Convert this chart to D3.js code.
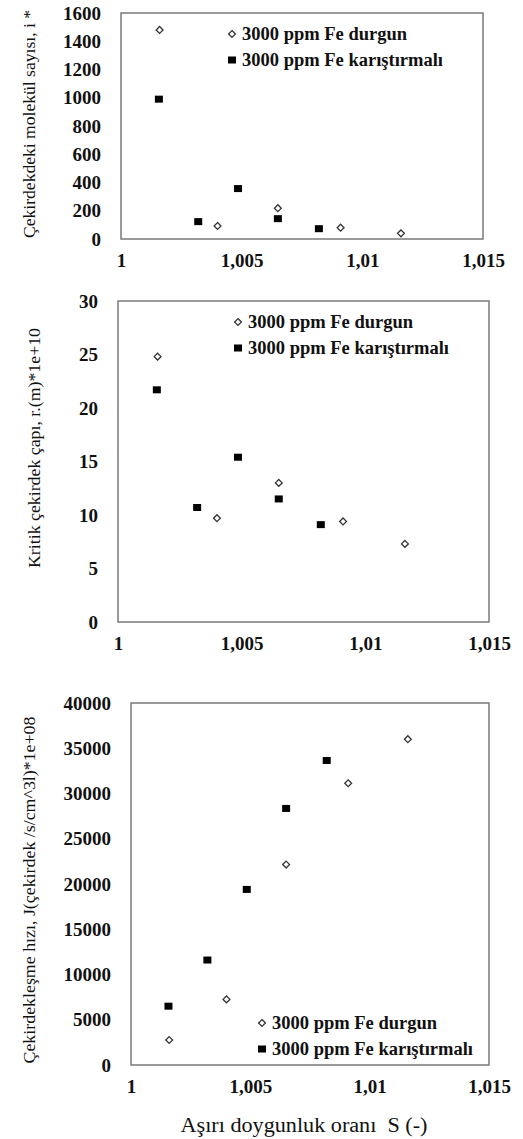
<!DOCTYPE html>
<html>
<head>
<meta charset="utf-8">
<script src="https://cdn.jsdelivr.net/npm/d3@7"></script>
<style>
  html, body { margin: 0; padding: 0; background: #fff; }
  svg { display: block; }
</style>
</head>
<body>
<svg id="chart" width="523" height="1139"></svg>
<script>
// ---------- DATA ----------
const xTickValues = [1, 1.005, 1.01, 1.015];
const xTickLabels = ["1", "1,005", "1,01", "1,015"];

const seriesNames = ["3000 ppm Fe durgun", "3000 ppm Fe karıştırmalı"];

const durgunS = [1.0016, 1.0040, 1.0065, 1.0091, 1.0116];
const karS    = [1.00157, 1.0032, 1.00485, 1.0065, 1.0082];

const durgunI = [1480, 92, 218, 80, 40];
const karI    = [990, 123, 357, 144, 73];

const durgunR = [24.8, 9.7, 13.0, 9.4, 7.3];
const karR    = [21.7, 10.7, 15.4, 11.5, 9.1];

const durgunJ = [2760, 7250, 22150, 31130, 36000];
const karJ    = [6500, 11600, 19400, 28350, 33650];

const yTicks1 = [0, 200, 400, 600, 800, 1000, 1200, 1400, 1600];
const yTicks2 = [0, 5, 10, 15, 20, 25, 30];
const yTicks3 = [0, 5000, 10000, 15000, 20000, 25000, 30000, 35000, 40000];

const yTitles = [
  "Çekirdekdeki molekül sayısı, i *",
  "Kritik çekirdek çapı, r.(m)*1e+10",
  "Çekirdekleşme hızı, J(çekirdek /s/cm^3l)*1e+08"
];
const xTitle = "Aşırı doygunluk oranı  S (-)";

// ---------- LAYOUT ----------
const FONT = "'Liberation Serif', 'Times New Roman', serif";
const panels = [
  { left: 121, right: 483, top: 13, bottom: 239, yMax: 1600, yTicks: yTicks1,
    d: durgunI, k: karI, title: yTitles[0], titleX: 29, titleLen: 228, titleCy: 124,
    legX: 232, legY: 34 },
  { left: 118, right: 489, top: 301, bottom: 622, yMax: 30, yTicks: yTicks2,
    d: durgunR, k: karR, title: yTitles[1], titleX: 34, titleLen: 240, titleCy: 448,
    legX: 238, legY: 322 },
  { left: 131, right: 489, top: 703, bottom: 1065, yMax: 40000, yTicks: yTicks3,
    d: durgunJ, k: karJ, title: yTitles[2], titleX: 29, titleLen: 347, titleCy: 890,
    legX: 262, legY: 1023 }
];

const svg = d3.select("#chart");
const diamond = d3.symbol().type(d3.symbolDiamond2).size(30);

panels.forEach((p) => {
  const x = d3.scaleLinear().domain([1, 1.015]).range([p.left, p.right]);
  const y = d3.scaleLinear().domain([0, p.yMax]).range([p.bottom, p.top]);
  const g = svg.append("g");

  // frame
  g.append("rect")
    .attr("x", p.left).attr("y", p.top)
    .attr("width", p.right - p.left).attr("height", p.bottom - p.top)
    .attr("fill", "none").attr("stroke", "#7a7a7a").attr("stroke-width", 1.5);

  // y axis
  const ya = g.append("g").attr("transform", `translate(${p.left},0)`)
    .call(d3.axisLeft(y).tickValues(p.yTicks).tickSize(0).tickPadding(20).tickFormat(d3.format("d")));
  ya.select(".domain").remove();
  ya.selectAll("text").style("font-family", FONT).style("font-size", "19px")
    .style("font-weight", "bold").attr("fill", "#111");

  // x axis
  const xa = g.append("g").attr("transform", `translate(0,${p.bottom})`)
    .call(d3.axisBottom(x).tickValues(xTickValues).tickSize(0)
      .tickFormat((d, j) => xTickLabels[j]));
  xa.select(".domain").remove();
  xa.selectAll("text").style("font-family", FONT).style("font-size", "19px")
    .style("font-weight", "bold").attr("fill", "#111")
    .attr("y", 28).attr("dy", 0);

  // y title
  g.append("text")
    .attr("transform", `translate(${p.titleX},${p.titleCy}) rotate(-90)`)
    .attr("text-anchor", "middle").attr("dy", "0.35em")
    .style("font-family", FONT).style("font-size", "17px")
    .attr("textLength", p.titleLen).attr("lengthAdjust", "spacingAndGlyphs")
    .attr("fill", "#111")
    .text(p.title);

  // durgun points (open diamonds)
  g.selectAll(".dg").data(durgunS.map((s, j) => [s, p.d[j]])).join("path")
    .attr("d", diamond)
    .attr("transform", d => `translate(${x(d[0])},${y(d[1])})`)
    .attr("fill", "#fff").attr("stroke", "#333").attr("stroke-width", 1.3);

  // karıştırmalı points (filled squares)
  g.selectAll(".kr").data(karS.map((s, j) => [s, p.k[j]])).join("rect")
    .attr("x", d => x(d[0]) - 4).attr("y", d => y(d[1]) - 3.5)
    .attr("width", 8).attr("height", 7)
    .attr("fill", "#000");

  // legend
  const lg = g.append("g");
  lg.append("path").attr("d", diamond)
    .attr("transform", `translate(${p.legX},${p.legY})`)
    .attr("fill", "#fff").attr("stroke", "#333").attr("stroke-width", 1.3);
  lg.append("text").attr("x", p.legX + 10).attr("y", p.legY).attr("dy", "0.35em")
    .style("font-family", FONT).style("font-size", "18.5px").style("font-weight", "bold")
    .attr("fill", "#111").text(seriesNames[0]);
  lg.append("rect").attr("x", p.legX - 4).attr("y", p.legY + 26 - 3.5)
    .attr("width", 8).attr("height", 7).attr("fill", "#000");
  lg.append("text").attr("x", p.legX + 10).attr("y", p.legY + 26).attr("dy", "0.35em")
    .style("font-family", FONT).style("font-size", "18.5px").style("font-weight", "bold")
    .attr("fill", "#111").text(seriesNames[1]);
});

// x title
svg.append("text")
  .attr("x", 304).attr("y", 1132)
  .attr("text-anchor", "middle")
  .style("font-family", FONT).style("font-size", "20px").style("white-space", "pre")
  .attr("textLength", 247).attr("lengthAdjust", "spacingAndGlyphs")
  .attr("fill", "#111")
  .text(xTitle);
</script>
</body>
</html>
